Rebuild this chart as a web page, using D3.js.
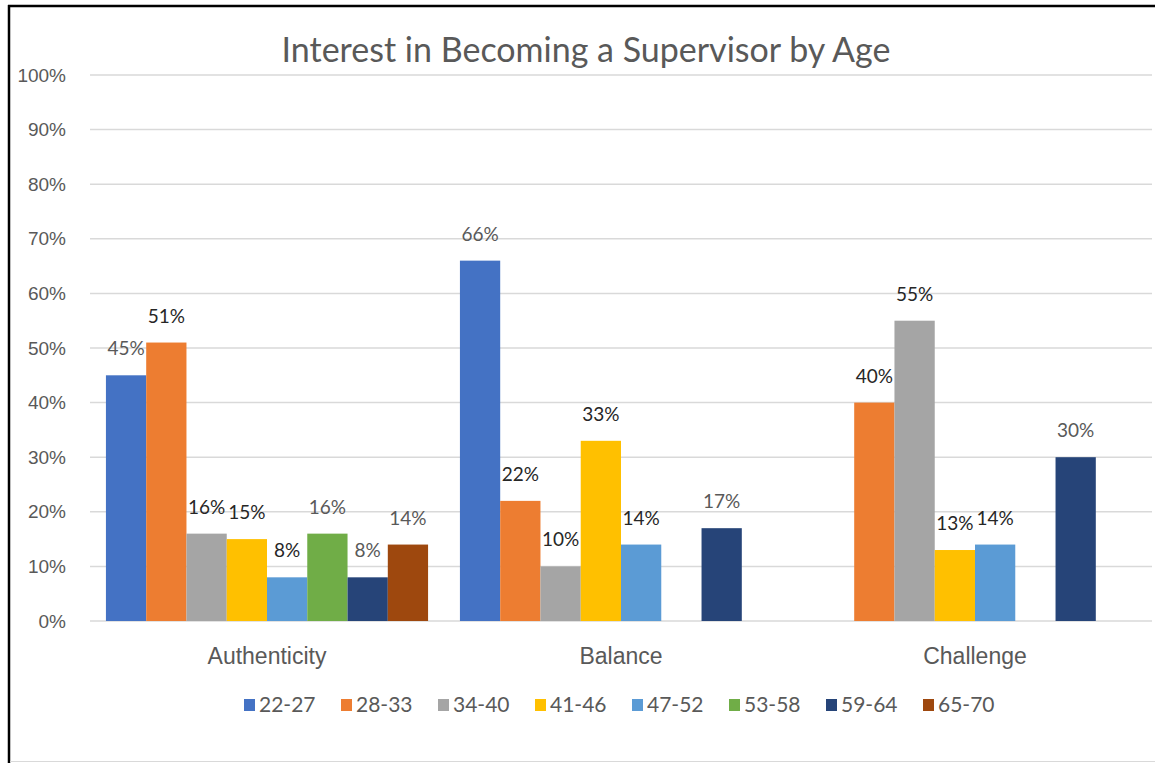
<!DOCTYPE html>
<html>
<head>
<meta charset="utf-8">
<script src="https://cdn.jsdelivr.net/npm/d3@7"></script>
<style>
    body { margin: 0; background: #ffffff; }
    svg { display: block; font-family: Lato, "Liberation Sans", Arial, sans-serif; }
</style>
</head>
<body>
<div id="barChart"></div>
<script>
// Chart data
const categories = ["Authenticity", "Balance", "Challenge"];
const ageGroups = ["22-27", "28-33", "34-40", "41-46", "47-52", "53-58", "59-64", "65-70"];
// one array per age group, values in the order of categories (null = no bar)
const age22_27 = [0.45, 0.66, null];
const age28_33 = [0.51, 0.22, 0.40];
const age34_40 = [0.16, 0.10, 0.55];
const age41_46 = [0.15, 0.33, 0.13];
const age47_52 = [0.08, 0.14, 0.14];
const age53_58 = [0.16, null, null];
const age59_64 = [0.08, 0.17, 0.30];
const age65_70 = [0.14, null, null];
const seriesValues = [age22_27, age28_33, age34_40, age41_46, age47_52, age53_58, age59_64, age65_70];
const yTicks = [0, 0.1, 0.2, 0.3, 0.4, 0.5, 0.6, 0.7, 0.8, 0.9, 1.0];

const colors = ["#4472C4", "#ED7D31", "#A5A5A5", "#FFC000", "#5B9BD5", "#70AD47", "#264478", "#9E480E"];
const labelColors = ["#595959", "#262626", "#262626", "#262626", "#262626", "#595959", "#595959", "#595959"];

const W = 1155, H = 763;
const plot = { left: 90, right: 1152, top: 75, bottom: 621 };

function createBarChart() {

    const svg = d3.select("#barChart")
        .append("svg")
        .attr("width", W)
        .attr("height", H);

    svg.append("rect")
        .attr("width", W)
        .attr("height", H)
        .attr("fill", "#ffffff");

    // frame of the chart area
    svg.append("line")
        .attr("x1", 8).attr("x2", W).attr("y1", 6).attr("y2", 6)
        .attr("stroke", "#000").attr("stroke-width", 2.5);
    svg.append("line")
        .attr("x1", 9).attr("x2", 9).attr("y1", 5).attr("y2", H)
        .attr("stroke", "#000").attr("stroke-width", 2.5);
    svg.append("line")
        .attr("x1", 10).attr("x2", W).attr("y1", 761.5).attr("y2", 761.5)
        .attr("stroke", "#d9d9d9").attr("stroke-width", 1);

    // Scales
    const xScale = d3.scaleBand()
        .domain(categories)
        .range([plot.left, plot.right])
        .paddingInner(0.09)
        .paddingOuter(0.045);

    const xInner = d3.scaleBand()
        .domain(ageGroups)
        .range([0, xScale.bandwidth()])
        .padding(0);

    const yScale = d3.scaleLinear()
        .domain([0, 1])
        .range([plot.bottom, plot.top]);

    // Gridlines
    svg.append("g")
        .selectAll("line")
        .data(yTicks)
        .join("line")
        .attr("x1", plot.left)
        .attr("x2", plot.right)
        .attr("y1", d => yScale(d))
        .attr("y2", d => yScale(d))
        .attr("stroke", "#d9d9d9")
        .attr("stroke-width", 1.5);

    // Y axis labels
    const yAxis = d3.axisLeft(yScale)
        .tickValues(yTicks)
        .tickFormat(d3.format(".0%"))
        .tickSize(0)
        .tickPadding(24);

    svg.append("g")
        .attr("transform", `translate(${plot.left}, 0)`)
        .call(yAxis)
        .call(g => g.select(".domain").remove())
        .call(g => g.selectAll("text")
            .attr("fill", "#595959")
            .attr("font-size", 19)
            .attr("font-family", null));

    // X axis labels
    const xAxis = d3.axisBottom(xScale)
        .tickSize(0)
        .tickPadding(27);

    svg.append("g")
        .attr("transform", `translate(0, ${plot.bottom})`)
        .call(xAxis)
        .call(g => g.select(".domain").remove())
        .call(g => g.selectAll("text")
            .attr("fill", "#595959")
            .attr("font-size", 23)
            .attr("font-family", null));

    // flatten data to bars
    const bars = [];
    seriesValues.forEach((vals, s) => {
        vals.forEach((v, c) => {
            if (v !== null) bars.push({ cat: categories[c], age: ageGroups[s], s: s, value: v });
        });
    });

    svg.append("g")
        .selectAll("rect")
        .data(bars)
        .join("rect")
        .attr("x", d => xScale(d.cat) + xInner(d.age))
        .attr("y", d => yScale(d.value))
        .attr("width", xInner.bandwidth())
        .attr("height", d => yScale(0) - yScale(d.value))
        .attr("fill", d => colors[d.s]);

    // Data labels
    svg.append("g")
        .selectAll("text")
        .data(bars)
        .join("text")
        .attr("x", d => xScale(d.cat) + xInner(d.age) + xInner.bandwidth() / 2)
        .attr("y", d => yScale(d.value) - 20)
        .attr("text-anchor", "middle")
        .attr("font-size", 19)
        .attr("fill", d => labelColors[d.s])
        .text(d => d3.format(".0%")(d.value));

    // Title
    svg.append("text")
        .attr("x", 586)
        .attr("y", 62)
        .attr("text-anchor", "middle")
        .attr("font-size", 34)
        .attr("fill", "#595959")
        .text("Interest in Becoming a Supervisor by Age");

    // Legend
    const step = 97;
    const legendStart = (plot.left + plot.right) / 2 - (ageGroups.length * step) / 2 + 11;
    const legend = svg.append("g")
        .selectAll("g")
        .data(ageGroups)
        .join("g")
        .attr("transform", (d, i) => `translate(${legendStart + i * step}, 705)`);

    legend.append("rect")
        .attr("x", 0)
        .attr("y", -6)
        .attr("width", 11)
        .attr("height", 12)
        .attr("fill", (d, i) => colors[i]);

    legend.append("text")
        .attr("x", 15)
        .attr("y", 0)
        .attr("dy", "0.35em")
        .attr("font-size", 21)
        .attr("fill", "#595959")
        .text(d => d);
}

createBarChart();
</script>
</body>
</html>
